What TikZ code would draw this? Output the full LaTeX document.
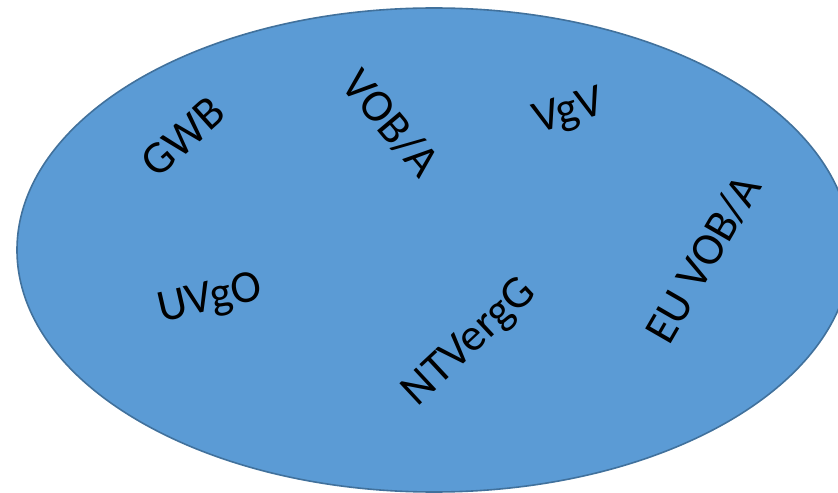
\documentclass[tikz,border=0pt]{standalone}
\usepackage{fontspec}
\setmainfont{Carlito}
\definecolor{setfill}{HTML}{5B9BD5}
\definecolor{setline}{HTML}{41719C}
\begin{document}
\begin{tikzpicture}[x=1bp,y=-1bp,
  setshape/.style={fill=setfill,draw=setline,line width=1.6bp},
  lawlabel/.style={font=\fontsize{46}{50}\selectfont,text=black,inner sep=0pt,anchor=center}]
  \useasboundingbox (0,0) rectangle (838,493);
  % the set of procurement rules
  \begin{scope}
    \clip (0,0) rectangle (838,493);
    \draw[setshape] (434,250) ellipse [x radius=417, y radius=242];
  \end{scope}
  % the rule sets inside it
  \node[lawlabel,rotate=42]  (gwb)   at (183,137) {GWB};
  \node[lawlabel,rotate=-50] (voba)  at (391,123) {VOB/A};
  \node[lawlabel,rotate=17]  (vgv)   at (569,113) {VgV};
  \node[lawlabel,rotate=13]  (uvgo)  at (210,300) {UVgO};
  \node[lawlabel,rotate=43]  (ntvg)  at (470,343) {NTVergG};
  \node[lawlabel,rotate=60]  (euvob) at (703,259) {EU VOB/A};
\end{tikzpicture}
\end{document}
